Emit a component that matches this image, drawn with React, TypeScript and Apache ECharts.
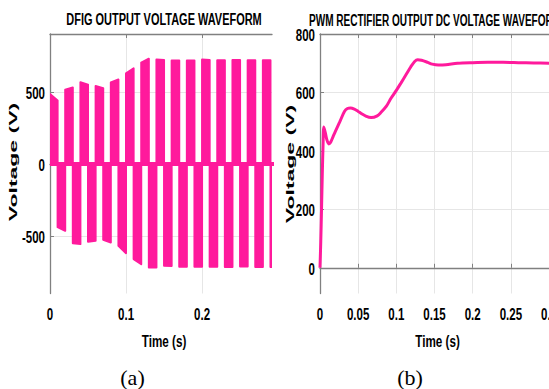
import React, { useEffect, useRef } from "react";
import * as echarts from "echarts";

// ---------- data ----------
const PINK = "#ff1a9c";

// DFIG output voltage: one filled PWM block per half-cycle (start time, envelope at block start / end)
const dfigHalfCycleStart = [
  0.0, 0.01, 0.02, 0.03, 0.04, 0.05, 0.06, 0.07, 0.08, 0.09,
  0.1, 0.11, 0.12, 0.13, 0.14, 0.15, 0.16, 0.17, 0.18, 0.19,
  0.2, 0.21, 0.22, 0.23, 0.24, 0.25, 0.26, 0.27, 0.28, 0.29,
];
const dfigHalfCycleEnd = [
  0.01, 0.02, 0.03, 0.04, 0.05, 0.06, 0.07, 0.08, 0.09, 0.1,
  0.11, 0.12, 0.13, 0.14, 0.15, 0.16, 0.17, 0.18, 0.19, 0.2,
  0.21, 0.22, 0.23, 0.24, 0.25, 0.26, 0.27, 0.28, 0.29, 0.3,
];
const dfigPeakStart = [
  485, -436, 515, -547, 567, -537, 540, -524, 565, -565,
  628, -657, 702, -715, 724, -703, 717, -710, 717, -710,
  724, -710, 718, -712, 720, -708, 718, -712, 718, -712,
];
const dfigPeakEnd = [
  440, -461, 530, -553, 550, -530, 525, -542, 585, -616,
  662, -692, 729, -715, 720, -705, 717, -710, 717, -710,
  720, -710, 718, -712, 720, -708, 718, -712, 718, -712,
];
const dfigZeroSpan = [0, 0.3];

// PWM rectifier DC output voltage
const dcTime = [
  0, 0.001, 0.002, 0.003, 0.004, 0.005, 0.007, 0.009, 0.0115, 0.014,
  0.017, 0.02, 0.026, 0.032, 0.036, 0.04, 0.045, 0.05, 0.054, 0.06,
  0.067, 0.075, 0.08, 0.087, 0.093, 0.1, 0.106, 0.113, 0.119, 0.124,
  0.128, 0.133, 0.141, 0.147, 0.155, 0.165, 0.18, 0.2, 0.22, 0.24,
  0.26, 0.28, 0.3,
];
const dcVoltage = [
  0, 90, 200, 320, 420, 482, 462, 438, 424, 430,
  448, 466, 500, 535, 545, 547, 543, 535, 528, 519,
  514, 520, 532, 553, 580, 607, 632, 662, 688, 706,
  712, 710, 703, 697, 694, 695, 700, 702, 703, 703,
  702, 701, 700,
];

// tick labels
const dfigXTicks = [0, 0.1, 0.2];
const dfigXTickLabels = ["0", "0.1", "0.2"];
const dfigYTicks = [-500, 0, 500];
const dfigYTickLabels = ["-500", "0", "500"];
const dcXTicks = [0, 0.05, 0.1, 0.15, 0.2, 0.25, 0.3];
const dcXTickLabels = ["0", "0.05", "0.1", "0.15", "0.2", "0.25", "0.3"];
const dcYTicks = [0, 200, 400, 600, 800];
const dcYTickLabels = ["0", "200", "400", "600", "800"];

const DFIG_X_MAX = 0.292;
const DFIG_Y = [-895, 900];
const DC_X_MAX = 0.3;
const DC_Y = [-88, 800];

const AXIS_GRAY = "#808080";
const GRID_GRAY = "#e6e6e6";
const LABEL_FONT = "'Liberation Sans', Arial, sans-serif";

function buildOption() {
  const blocks = dfigHalfCycleStart.map((t, i) => [
    t,
    dfigHalfCycleEnd[i],
    dfigPeakStart[i],
    dfigPeakEnd[i],
  ]);

  const xAxisDef = (gridIndex: number, max: number, ticks: number[], interval: number, position: string) => ({
    type: "value",
    gridIndex,
    position,
    min: 0,
    max,
    interval,
    axisLine: { show: true, lineStyle: { color: AXIS_GRAY, width: 1.3 } },
    axisTick: { show: true, inside: true, length: 4, customValues: ticks, lineStyle: { color: AXIS_GRAY } },
    axisLabel: { show: false },
    splitLine: { show: position === "bottom", lineStyle: { color: GRID_GRAY, width: 1 } },
  });
  const yAxisDef = (gridIndex: number, range: number[], ticks: number[]) => ({
    type: "value",
    gridIndex,
    position: "left",
    min: range[0],
    max: range[1],
    axisLine: { show: true, lineStyle: { color: AXIS_GRAY, width: 1.3 } },
    axisTick: { show: true, inside: true, length: 4, customValues: ticks, lineStyle: { color: AXIS_GRAY } },
    axisLabel: { show: false, customValues: ticks },
    splitLine: { show: true, lineStyle: { color: GRID_GRAY, width: 1 } },
  });

  return {
    animation: false,
    backgroundColor: "#ffffff",
    grid: [
      { left: 50, top: 34, width: 222, height: 259.5 },
      { left: 320, top: 34, width: 232, height: 259.5 },
    ],
    xAxis: [
      xAxisDef(0, DFIG_X_MAX, dfigXTicks, 0.1, "bottom"),
      xAxisDef(0, DFIG_X_MAX, dfigXTicks, 0.1, "top"),
      xAxisDef(1, DC_X_MAX, dcXTicks, 0.05, "bottom"),
      xAxisDef(1, DC_X_MAX, dcXTicks, 0.05, "top"),
    ],
    yAxis: [yAxisDef(0, DFIG_Y, dfigYTicks), yAxisDef(1, DC_Y, dcYTicks)],
    series: [
      {
        type: "line",
        xAxisIndex: 0,
        yAxisIndex: 0,
        data: dfigZeroSpan.map((t) => [t, 0]),
        showSymbol: false,
        lineStyle: { color: PINK, width: 4 },
        clip: true,
        z: 3,
      },
      {
        type: "custom",
        xAxisIndex: 0,
        yAxisIndex: 0,
        clip: true,
        encode: { x: [0, 1], y: [2, 3] },
        data: blocks,
        renderItem: (params: any, api: any) => {
          const t0 = api.value(0);
          const t1 = api.value(1);
          const p0 = api.value(2);
          const p1 = api.value(3);
          const pts = [
            api.coord([t0, 0]),
            api.coord([t0, p0]),
            api.coord([t1, p1]),
            api.coord([t1, 0]),
          ];
          return {
            type: "polygon",
            shape: { points: pts },
            style: { fill: PINK, stroke: PINK, lineWidth: 2, lineJoin: "round" },
          };
        },
        z: 4,
      },
      {
        type: "line",
        xAxisIndex: 2,
        yAxisIndex: 1,
        data: dcTime.map((t, i) => [t, dcVoltage[i]]),
        showSymbol: false,
        smooth: 0.3,
        lineStyle: { color: PINK, width: 3 },
        clip: true,
        z: 3,
      },
    ],
  };
}

const text = (t: string, x: number, y: number, extra: any = {}, style: any = {}) => ({
  type: "text",
  x,
  y,
  z: 100,
  ...extra,
  style: {
    text: t,
    fill: "#000",
    fontFamily: LABEL_FONT,
    fontWeight: "bold",
    fontSize: 16,
    align: "center",
    verticalAlign: "middle",
    ...style,
  },
});

function buildTexts(chart: any) {
  const px = (xi: number, v: number) => chart.convertToPixel({ xAxisIndex: xi }, v);
  const py = (yi: number, v: number) => chart.convertToPixel({ yAxisIndex: yi }, v);
  const out: any[] = [];
  const TICK_SCALE = 0.72;

  // left panel
  const l0 = px(0, 0);
  const lBottom = py(0, DFIG_Y[0]);
  dfigXTicks.forEach((v, i) =>
    out.push(text(dfigXTickLabels[i], px(0, v), lBottom + 21, { scaleX: TICK_SCALE }, { fontSize: 16 }))
  );
  dfigYTicks.forEach((v, i) =>
    out.push(text(dfigYTickLabels[i], l0 - 5, py(0, v) + 1, { scaleX: TICK_SCALE }, { fontSize: 16, align: "right" }))
  );

  // right panel
  const r0 = px(2, 0);
  const rBottom = py(1, DC_Y[0]);
  dcXTicks.forEach((v, i) =>
    out.push(text(dcXTickLabels[i], px(2, v), rBottom + 21, { scaleX: TICK_SCALE }, { fontSize: 16 }))
  );
  dcYTicks.forEach((v, i) =>
    out.push(text(dcYTickLabels[i], r0 - 5, py(1, v) + 1, { scaleX: TICK_SCALE }, { fontSize: 16, align: "right" }))
  );

  // titles, axis names, panel captions
  out.push(text("DFIG OUTPUT VOLTAGE WAVEFORM", 164, 19.5, { scaleX: 0.645 }, { fontSize: 17 }));
  out.push(text("PWM RECTIFIER OUTPUT DC VOLTAGE WAVEFORM", 309, 19.5, { scaleX: 0.59 }, { fontSize: 17, align: "left" }));
  out.push(text("Voltage (V)", 13.3, 162, { rotation: Math.PI / 2, scaleY: 0.5 }, { fontSize: 23 }));
  out.push(text("Voltage (V)", 290.5, 164, { rotation: Math.PI / 2, scaleY: 0.5 }, { fontSize: 23 }));
  out.push(text("Time (s)", 164, 341, { scaleX: 0.73 }, { fontSize: 16 }));
  out.push(text("Time (s)", 437.5, 341, { scaleX: 0.73 }, { fontSize: 16 }));
  const serif = { fontFamily: "'Liberation Serif', 'Times New Roman', serif", fontWeight: "normal", fontSize: 22 };
  out.push(text("(a)", 132.5, 377, {}, serif));
  out.push(text("(b)", 410, 377, {}, serif));
  return out;
}

export default function App() {
  const ref = useRef<HTMLDivElement>(null);
  useEffect(() => {
    if (!ref.current) return;
    const chart = echarts.init(ref.current, undefined, { renderer: "svg" });
    chart.setOption(buildOption() as any);
    chart.setOption({ graphic: buildTexts(chart) } as any);
    return () => chart.dispose();
  }, []);
  return (
    <div
      style={{ position: "fixed", left: 0, top: 0, width: 549, height: 389, overflow: "hidden", background: "#fff" }}
    >
      <div ref={ref} style={{ width: 549, height: 389 }} />
    </div>
  );
}
